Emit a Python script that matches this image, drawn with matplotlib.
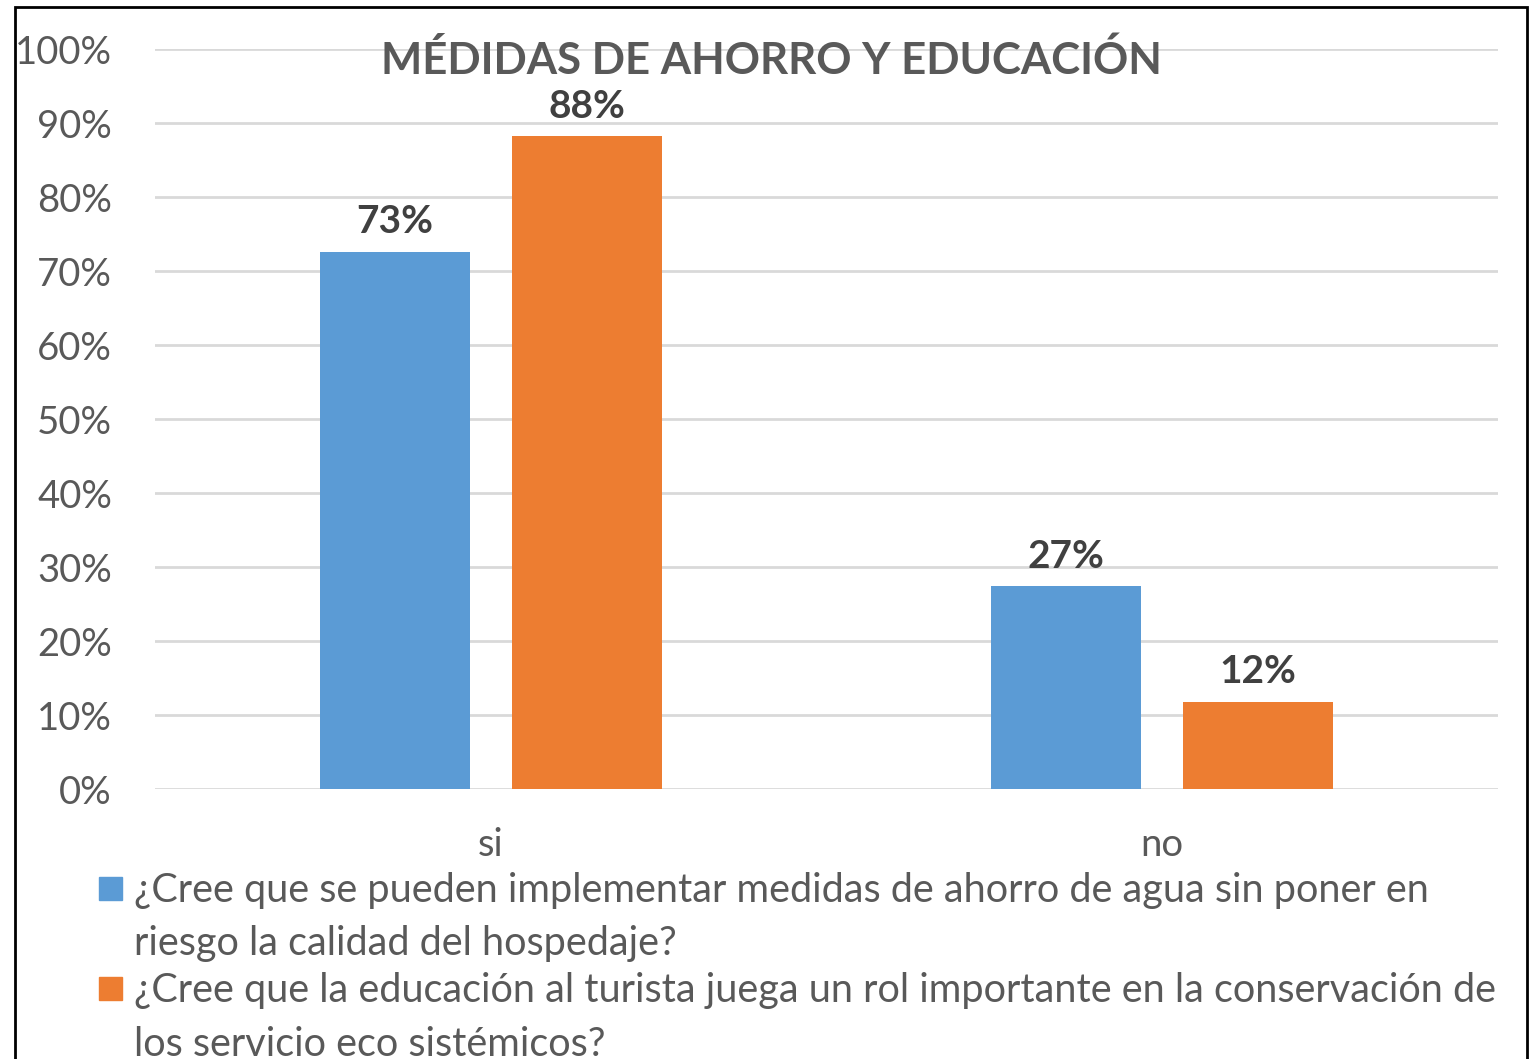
import matplotlib.pyplot as plt
from matplotlib.patches import Rectangle

categories = ['si', 'no']
serie_1 = [0.726, 0.274]   # ¿Cree que se pueden implementar...
serie_2 = [0.882, 0.118]   # ¿Cree que la educación...
etiquetas_1 = ['73%', '27%']
etiquetas_2 = ['88%', '12%']
yticks = [0, 0.1, 0.2, 0.3, 0.4, 0.5, 0.6, 0.7, 0.8, 0.9, 1.0]
ytick_labels = ['0%', '10%', '20%', '30%', '40%', '50%', '60%', '70%', '80%', '90%', '100%']
leyenda = ['¿Cree que se pueden implementar medidas de ahorro de agua sin poner en\nriesgo la calidad del hospedaje?',
           '¿Cree que la educación al turista juega un rol importante en la conservación de\nlos servicio eco sistémicos?']

azul = '#5B9BD5'
naranja = '#ED7D31'
gris = '#595959'

plt.rcParams['font.family'] = ['Lato', 'DejaVu Sans']

W, H = 1539, 1059
fig = plt.figure(figsize=(W / 100, H / 100), dpi=100)
ax = fig.add_axes([155 / W, 1 - 789 / H, (1498 - 155) / W, (789 - 49) / H])

x = list(range(len(categories)))
ancho = 0.2234
off = 0.143
b1 = ax.bar([i - off for i in x], serie_1, ancho, color=azul, zorder=3)
b2 = ax.bar([i + off for i in x], serie_2, ancho, color=naranja, zorder=3)

for bars, labs in [(b1, etiquetas_1), (b2, etiquetas_2)]:
    for r, lab in zip(bars, labs):
        ax.text(r.get_x() + r.get_width() / 2, r.get_height() + 0.017, lab,
                ha='center', va='bottom', fontsize=28, fontweight='bold', color='#404040')

ax.set_xlim(-0.5, 1.5)
ax.set_ylim(0, 1)
ax.set_yticks(yticks)
ax.set_yticklabels(ytick_labels)
ax.set_xticks(x)
ax.set_xticklabels(categories)
ax.tick_params(axis='both', length=0, labelsize=27.5, labelcolor=gris)
ax.tick_params(axis='y', pad=31)
ax.tick_params(axis='x', pad=27)
ax.grid(axis='y', color='#D9D9D9', linewidth=2, zorder=0)
for s in ax.spines.values():
    s.set_visible(False)

fig.text(771 / W, 1 - 60 / H, 'MÉDIDAS DE AHORRO Y EDUCACIÓN', ha='center', va='center',
         fontsize=31.5, fontweight='bold', color=gris)

# leyenda dibujada a mano
for k, (txt, col) in enumerate(zip(leyenda, [azul, naranja])):
    ytop = 877 + k * 100
    fig.patches.append(Rectangle((99 / W, 1 - (ytop + 23) / H), 23 / W, 23 / H,
                                 transform=fig.transFigure, color=col, figure=fig))
    fig.text(134 / W, 1 - (ytop - 5) / H, txt, ha='left', va='top', fontsize=28.5,
             color=gris, linespacing=1.55)

# marco
fig.patches.append(Rectangle((15 / W, -0.05), (1527 - 15) / W, 1 - 7 / H + 0.05,
                             transform=fig.transFigure, fill=False, edgecolor='black',
                             linewidth=2, figure=fig))

fig.savefig('out.png', dpi=100)
